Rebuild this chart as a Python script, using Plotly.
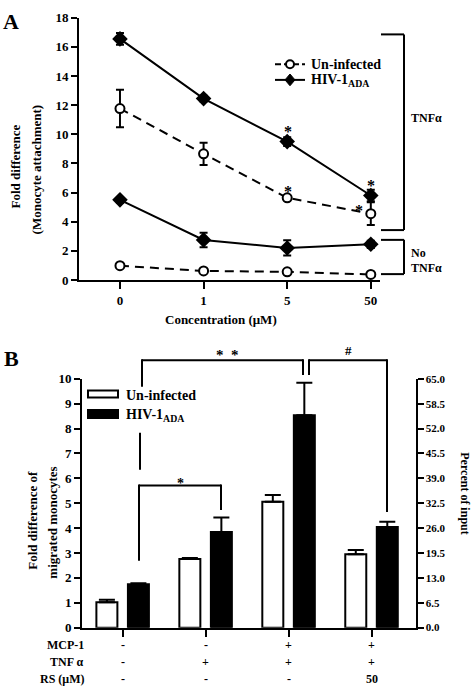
import plotly.graph_objects as go

# ---------------- data ----------------
conc_labels = ["0", "1", "5", "50"]
hiv_tnf = [16.55, 12.45, 9.5, 5.8]
hiv_tnf_err = [0.4, 0.2, 0.3, 0.4]
un_tnf = [11.77, 8.66, 5.64, 4.55]
un_tnf_err = [1.28, 0.76, 0.1, 0.78]
hiv_notnf = [5.5, 2.75, 2.2, 2.45]
hiv_notnf_err = [0.2, 0.5, 0.52, 0.25]
un_notnf = [0.98, 0.62, 0.56, 0.38]
un_notnf_err = [0.05, 0.05, 0.05, 0.05]

groups_b = ["g1", "g2", "g3", "g4"]
un_mig = [1.02, 2.76, 5.06, 2.95]
un_mig_err = [0.10, 0.04, 0.27, 0.17]
hiv_mig = [1.74, 3.84, 8.54, 4.04]
hiv_mig_err = [0.04, 0.59, 1.30, 0.22]
right_ticks = [0.0, 6.5, 13.0, 19.5, 26.0, 32.5, 39.0, 45.5, 52.0, 58.5, 65.0]
mcp1_row = ["-", "-", "+", "+"]
tnf_row = ["-", "+", "+", "+"]
rs_row = ["-", "-", "-", "50"]

W, H = 474, 696
FONT = "Liberation Serif, Times New Roman, DejaVu Serif, serif"


def px(x):
    return x / W


def py(y):
    return 1 - y / H


xa = list(range(len(conc_labels)))
xb = list(range(len(groups_b)))

fig = go.Figure()

# ---------------- panel A ----------------
def line_trace(y, err, dashed, filled, name):
    return go.Scatter(
        x=xa, y=y, mode="lines+markers", name=name, showlegend=False,
        xaxis="x", yaxis="y",
        line=dict(color="black", width=2, dash="9px,6px" if dashed else "solid"),
        marker=dict(symbol="diamond" if filled else "circle",
                    size=12 if filled else 9,
                    color="black" if filled else "white",
                    line=dict(color="black", width=2 if not filled else 0)),
        error_y=dict(type="data", array=err, visible=True, color="black",
                     thickness=2, width=4),
    )


fig.add_trace(line_trace(un_notnf, un_notnf_err, True, False, "Un-infected"))
fig.add_trace(line_trace(hiv_notnf, hiv_notnf_err, False, True, "HIV-1ADA"))
fig.add_trace(line_trace(un_tnf, un_tnf_err, True, False, "Un-infected"))
fig.add_trace(line_trace(hiv_tnf, hiv_tnf_err, False, True, "HIV-1ADA"))

# ---------------- panel B ----------------
fig.add_trace(go.Bar(
    x=xb, y=un_mig, xaxis="x2", yaxis="y2", name="Un-infected", showlegend=False,
    marker=dict(color="white", line=dict(color="black", width=2)),
    error_y=dict(type="data", array=un_mig_err, arrayminus=[0] * 4, symmetric=False,
                 color="black", thickness=2, width=8),
))
fig.add_trace(go.Bar(
    x=xb, y=hiv_mig, xaxis="x2", yaxis="y2", name="HIV-1ADA", showlegend=False,
    marker=dict(color="black", line=dict(color="black", width=2)),
    error_y=dict(type="data", array=hiv_mig_err, arrayminus=[0] * 4, symmetric=False,
                 color="black", thickness=2, width=8),
))
# invisible trace to activate right axis
fig.add_trace(go.Scatter(x=[0], y=[0], xaxis="x2", yaxis="y3", mode="markers",
                         marker=dict(opacity=0), showlegend=False, hoverinfo="skip"))

tickfont = dict(family=FONT, size=13, color="black", weight="bold")
axcommon = dict(showline=True, linewidth=2, linecolor="black", showgrid=False,
                zeroline=False, ticks="outside", tickwidth=2, tickcolor="black",
                tickfont=tickfont)

fig.update_layout(
    width=W, height=H, margin=dict(l=0, r=0, t=0, b=0),
    paper_bgcolor="white", plot_bgcolor="white",
    barmode="group", bargap=0.24, bargroupgap=0.334,
    showlegend=False,
    xaxis=dict(domain=[px(79), px(380)], range=[-0.49, 3.11], tickvals=xa,
               ticktext=conc_labels, ticklen=7, anchor="y", **axcommon),
    yaxis=dict(domain=[py(279), py(11)], range=[0, 18], dtick=2, ticklen=6,
               anchor="x", **axcommon),
    xaxis2=dict(domain=[px(82), px(415.5)], range=[-0.49, 3.53], tickvals=xb,
                showticklabels=False, ticklen=7, anchor="y2", **axcommon),
    yaxis2=dict(domain=[py(634.3), py(380)], range=[0, 10], dtick=1, ticklen=6,
                anchor="x2", **axcommon),
    yaxis3=dict(domain=[py(634.3), py(380)], range=[0, 65], tickvals=right_ticks,
                ticktext=["%.1f" % v for v in right_ticks], overlaying="y2",
                side="right", anchor="x2", ticklen=6,
                **{**axcommon, "tickfont": dict(family=FONT, size=11, color="black", weight="bold")}),
)

shapes = []
annots = []


def seg(x0, y0, x1, y1, w=2):
    shapes.append(dict(type="line", xref="paper", yref="paper",
                       x0=px(x0), y0=py(y0), x1=px(x1), y1=py(y1),
                       line=dict(color="black", width=w)))


def txt(x, y, s, size=12, bold=True, xanchor="center", angle=0):
    annots.append(dict(xref="paper", yref="paper", x=px(x), y=py(y), text=s,
                       showarrow=False, xanchor=xanchor, yanchor="middle",
                       textangle=angle,
                       font=dict(family=FONT, size=size, color="black",
                                 weight="bold" if bold else "normal")))


# panel labels
txt(11, 15, "A", size=22)
txt(11, 359, "B", size=22)

# Panel A legend (manual)
shapes.append(dict(type="line", xref="paper", yref="paper", x0=px(275), x1=px(305),
                   y0=py(58.5), y1=py(58.5), line=dict(color="black", width=2, dash="6px,3px")))
shapes.append(dict(type="circle", xref="paper", yref="paper", x0=px(286), x1=px(294),
                   y0=py(62.5), y1=py(54.5), fillcolor="white",
                   line=dict(color="black", width=2)))
seg(275, 74.5, 305, 74.5)
shapes.append(dict(type="path", xref="paper", yref="paper",
                   path="M %f %f L %f %f L %f %f L %f %f Z" % (
                       px(290), py(68.5), px(295), py(74.5), px(290), py(80.5), px(285), py(74.5)),
                   fillcolor="black", line=dict(color="black", width=1)))
txt(309, 59, "Un-infected", size=14, xanchor="left")
txt(309, 75, "HIV-1<sub>ADA</sub>", size=14, xanchor="left")

# Panel A brackets
seg(381, 28, 404, 28)
seg(404, 28, 404, 228)
seg(381, 228, 404, 228)
seg(381, 238, 404, 238)
seg(404, 238, 404, 273)
seg(381, 273, 404, 273)
txt(409, 113, "TNFα", size=12, xanchor="left")
txt(409, 251, "No", size=12, xanchor="left")
txt(409, 267, "TNFα", size=12, xanchor="left")

# asterisks panel A
for (x, y) in [(288, 127), (371, 182), (288, 189), (359, 208)]:
    txt(x, y, "*", size=16, bold=True)

# axis titles panel A
txt(221, 319, "Concentration (μM)", size=13)
txt(15, 163, "Fold difference", size=13, angle=-90)
txt(36, 166, "(Monocyte attachment)", size=13, angle=-90)

# Panel B legend
shapes.append(dict(type="rect", xref="paper", yref="paper", x0=px(88), x1=px(118),
                   y0=py(399), y1=py(392), fillcolor="white", line=dict(color="black", width=2)))
shapes.append(dict(type="rect", xref="paper", yref="paper", x0=px(88), x1=px(118),
                   y0=py(420), y1=py(412), fillcolor="black", line=dict(color="black", width=2)))
txt(124, 397, "Un-infected", size=14, xanchor="left")
txt(124, 417, "HIV-1<sub>ADA</sub>", size=14, xanchor="left")

# significance brackets panel B
seg(142, 361, 303, 361)
seg(142, 360, 142, 388)
seg(303, 360, 303, 376)
seg(140, 435, 140, 473)
seg(309, 361, 387, 361)
seg(309, 360, 309, 376)
seg(387, 360, 387, 516)
seg(139, 489, 221, 489)
seg(139, 488, 139, 566)
seg(221, 488, 221, 514)
txt(227, 356, "*  *", size=15, bold=True)
txt(348, 351, "#", size=13, bold=True)
txt(180, 487, "*", size=14, bold=True)

# axis titles panel B
txt(33, 525, "Fold difference of", size=13, angle=-90)
txt(53, 527, "migrated monocytes", size=13, angle=-90)
txt(465, 497, "Percent of input", size=12, angle=90)

# bottom table
for label, row, y in [("MCP-1", mcp1_row, 652), ("TNF α", tnf_row, 669), ("RS (μM)", rs_row, 687)]:
    txt(86, y, label, size=12, xanchor="right")
    for i, v in enumerate(row):
        annots.append(dict(xref="x2", yref="paper", x=xb[i], y=py(y), text=v,
                           showarrow=False, xanchor="center", yanchor="middle",
                           font=dict(family=FONT, size=12, color="black", weight="bold")))

fig.update_layout(shapes=shapes, annotations=annots)
fig.write_html("out.html", config={"displayModeBar": False},
               post_script="document.body.style.margin='0';document.body.style.overflow='hidden';")
